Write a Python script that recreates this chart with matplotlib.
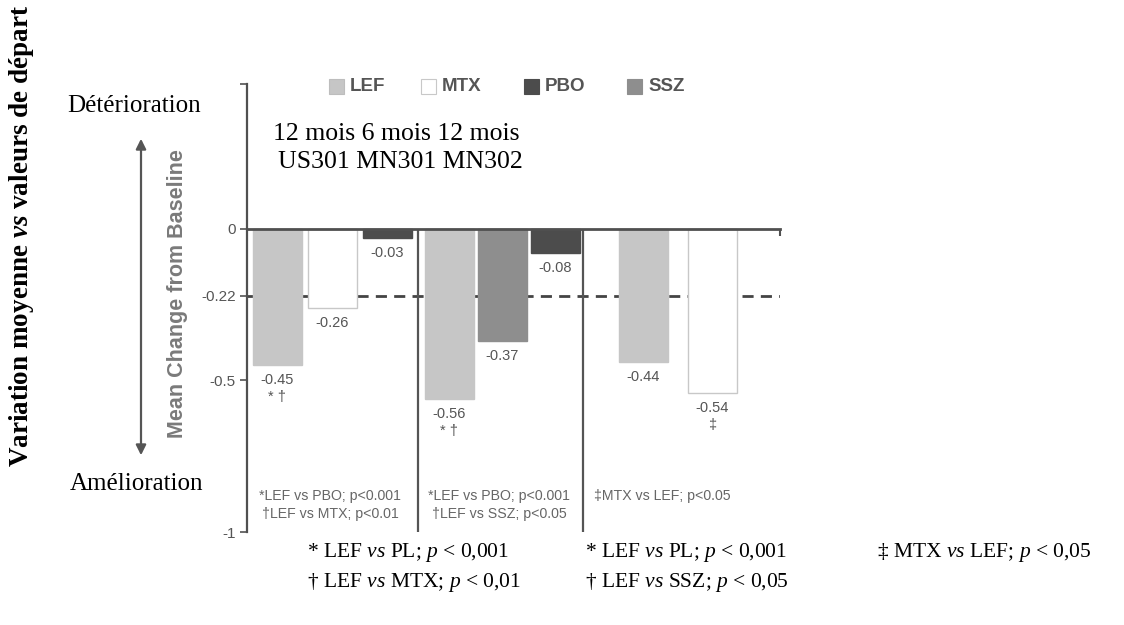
import matplotlib
matplotlib.use("Agg")
import matplotlib.pyplot as plt
from matplotlib.patches import Rectangle, FancyArrowPatch

# ---------------- data ----------------
groups = ["US301", "MN301", "MN302"]
group_periods = ["12 mois", "6 mois", "12 mois"]
g1_labels = ["LEF", "MTX", "PBO"]
g1_values = [-0.45, -0.26, -0.03]
g1_marks = ["* \u2020", "", ""]
g2_labels = ["LEF", "SSZ", "PBO"]
g2_values = [-0.56, -0.37, -0.08]
g2_marks = ["* \u2020", "", ""]
g3_labels = ["LEF", "MTX"]
g3_values = [-0.44, -0.54]
g3_marks = ["", "\u2021"]
reference_value = -0.22
ytick_values = [0.48, 0, -0.22, -0.5, -1]
ytick_labels = ["", "0", "-0.22", "-0.5", "-1"]
legend_labels = ["LEF", "MTX", "PBO", "SSZ"]
inner_notes = [["*LEF vs PBO; p<0.001", "\u2020LEF vs MTX; p<0.01"],
               ["*LEF vs PBO; p<0.001", "\u2020LEF vs SSZ; p<0.05"],
               ["\u2021MTX vs LEF; p<0.05"]]
fr_notes = [[r"* LEF $\mathit{vs}$ PL; $\mathit{p}$ < 0,001", "\u2020 LEF $\\mathit{vs}$ MTX; $\\mathit{p}$ < 0,01"],
            [r"* LEF $\mathit{vs}$ PL; $\mathit{p}$ < 0,001", "\u2020 LEF $\\mathit{vs}$ SSZ; $\\mathit{p}$ < 0,05"],
            ["\u2021 MTX $\\mathit{vs}$ LEF; $\\mathit{p}$ < 0,05"]]

# ---------------- style ----------------
colors = {"LEF": "#c6c6c6", "MTX": "#ffffff", "PBO": "#4c4c4c", "SSZ": "#8e8e8e"}
edges = {"LEF": "#c6c6c6", "MTX": "#c8c8c8", "PBO": "#4c4c4c", "SSZ": "#8e8e8e"}

plt.rcParams["mathtext.fontset"] = "custom"
plt.rcParams["mathtext.rm"] = "Liberation Serif"
plt.rcParams["mathtext.it"] = "Liberation Serif:italic"
plt.rcParams["mathtext.bf"] = "Liberation Serif:bold"
try:
    plt.rcParams["mathtext.bfit"] = "Liberation Serif:italic:bold"
    HAS_BFIT = True
except Exception:
    HAS_BFIT = False

SANS = "Liberation Sans"
SERIF = "Liberation Serif"
GRAY = "#555555"

W, H = 1124, 625
fig = plt.figure(figsize=(W / 100, H / 100), dpi=100)
fig.patch.set_facecolor("white")

def fx(x):
    return x / W

def fy(y):
    return 1 - y / H

# axes: x in pixel-like units
ax_left, ax_right = 247, 780
y_zero, y_m1 = 229, 532
ppu = y_m1 - y_zero
y_top = y_zero - 0.48 * ppu
ax = fig.add_axes([fx(ax_left), fy(y_m1), (ax_right - ax_left) / W, (y_m1 - y_top) / H])
ax.set_xlim(ax_left, ax_right)
ax.set_ylim(-1, 0.48)
ax.set_facecolor("none")

# layout positions (bar centers, separators)
positions = [[277.5, 332.5, 387.5], [449, 502.5, 555], [643.5, 712.5]]
sep_x = [418, 583]
bar_w = 49
note_x = [330, 499, 662]

all_labels = [g1_labels, g2_labels, g3_labels]
all_values = [g1_values, g2_values, g3_values]
all_marks = [g1_marks, g2_marks, g3_marks]

ax.axhline(reference_value, color="#444444", lw=2, ls=(0, (4, 2.6)), zorder=1)

for pos, labs, vals, marks in zip(positions, all_labels, all_values, all_marks):
    ax.bar(pos, vals, width=bar_w, color=[colors[l] for l in labs],
           edgecolor=[edges[l] for l in labs], linewidth=1, zorder=2)
    for x, v, m in zip(pos, vals, marks):
        ax.annotate(f"{v:.2f}", (x, v), xytext=(0, -15), textcoords="offset pixels",
                    ha="center", va="center", fontsize=10.5, family=SANS, color=GRAY)
        if m:
            ax.annotate(m, (x, v), xytext=(0, -32), textcoords="offset pixels",
                        ha="center", va="center", fontsize=10.5, family=SANS, color=GRAY)

ax.vlines(sep_x, -1, 0, color="#555555", lw=1.6, zorder=3)

# spines / ticks
for s in ["top", "right"]:
    ax.spines[s].set_visible(False)
ax.spines["bottom"].set_position(("data", 0))
ax.spines["bottom"].set_color("#505050")
ax.spines["bottom"].set_linewidth(2)
ax.spines["bottom"].set_zorder(4)
ax.spines["left"].set_color("#505050")
ax.spines["left"].set_linewidth(1.6)
ax.set_xticks([ax_right])
ax.set_xticklabels([""])
ax.tick_params(axis="x", direction="out", length=5, width=1.5, color="#505050")
ax.set_yticks(ytick_values)
ax.set_yticklabels(ytick_labels)
ax.tick_params(axis="y", direction="out", length=5, width=1.3, color="#606060",
               labelcolor="#555555", labelsize=11, pad=3)
for t in ax.get_yticklabels():
    t.set_family(SANS)

# inner footnotes
note_y = [-0.881, -0.94]
for xg, notes in zip(note_x, inner_notes):
    for k, n in enumerate(notes):
        ax.text(xg, note_y[k], n, ha="center", va="center", fontsize=10.2,
                family=SANS, color="#666666")

# legend (top)
legend_sq_x = [329, 421, 524, 627]
for lx, lab in zip(legend_sq_x, legend_labels):
    fig.patches.append(Rectangle((fx(lx), fy(94)), 15 / W, 15 / H, transform=fig.transFigure,
                                 facecolor=colors[lab] if lab != "MTX" else "white",
                                 edgecolor=edges[lab] if lab != "LEF" else "#bdbdbd",
                                 lw=0.8))
    fig.text(fx(lx + 21), fy(86.5), lab, ha="left", va="center", fontsize=13.5,
             family=SANS, fontweight="bold", color="#555555")

# header texts
fig.text(fx(396), fy(134), " ".join(group_periods), ha="center", va="center",
         fontsize=18.5, family=SERIF, color="black")
fig.text(fx(400), fy(162), " ".join(groups), ha="center", va="center",
         fontsize=18.5, family=SERIF, color="black")

# left-side annotations
fig.text(fx(134), fy(106), "Détérioration", ha="center", va="center", fontsize=18, family=SERIF)
fig.text(fx(137), fy(484), "Amélioration", ha="center", va="center", fontsize=18, family=SERIF)
fig.add_artist(FancyArrowPatch(
    (fx(141), fy(458)), (fx(141), fy(136)), transform=fig.transFigure,
    arrowstyle="<|-|>,head_length=6,head_width=3", color="#555555", lw=1.6))
fig.text(fx(177), fy(294), "Mean Change from Baseline", rotation=90, ha="center", va="center",
         fontsize=15.5, family=SANS, fontweight="bold", color="#7a7a7a")

vs_cmd = r"\mathbfit{vs}" if HAS_BFIT else r"\mathit{vs}"
fig.text(fx(22), fy(236), "Variation moyenne $" + vs_cmd + "$ valeurs de départ", rotation=90,
         ha="center", va="center", fontsize=19.5, family=SERIF, fontweight="bold")

# bottom French footnotes
col_x = [307, 585, 877]
row_y = [553, 583]
for cx, notes in zip(col_x, fr_notes):
    for k, n in enumerate(notes):
        fig.text(fx(cx), fy(row_y[k]), n, ha="left", va="center", fontsize=15.5, family=SERIF)

fig.savefig("out.png", dpi=100, facecolor="white")
